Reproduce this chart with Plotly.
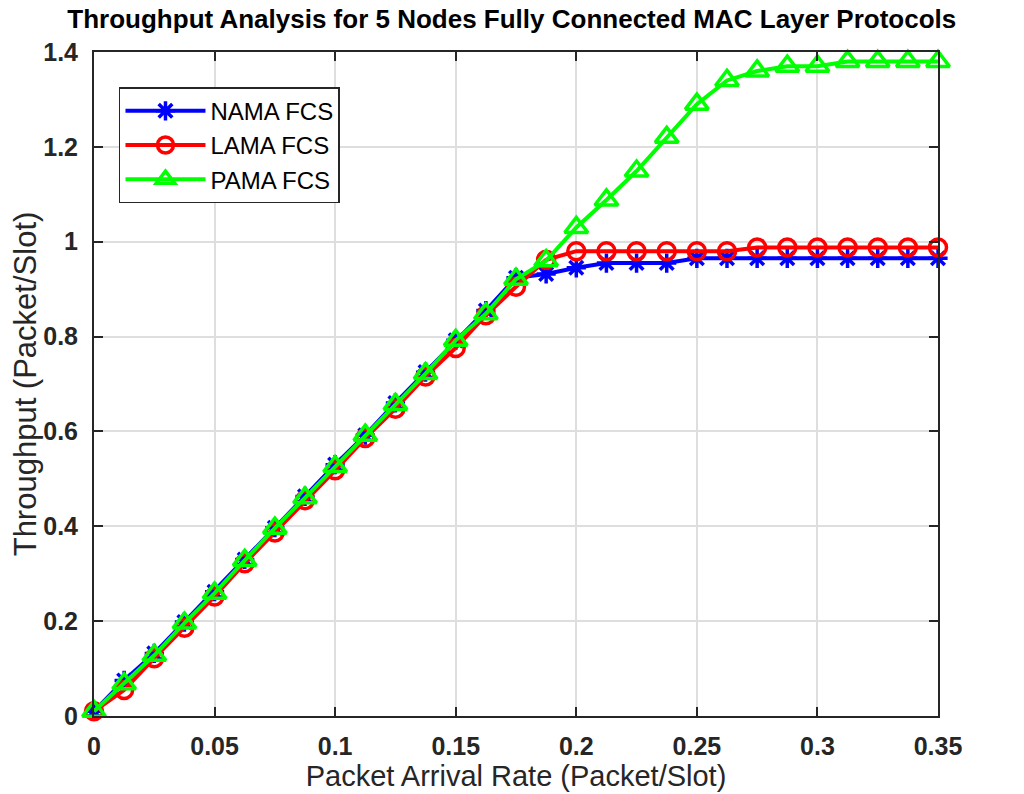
import plotly.graph_objects as go

arrival_rate = [0, 0.0125, 0.025, 0.0375, 0.05, 0.0625, 0.075, 0.0875, 0.1, 0.1125,
                0.125, 0.1375, 0.15, 0.1625, 0.175, 0.1875, 0.2, 0.2125, 0.225, 0.2375,
                0.25, 0.2625, 0.275, 0.2875, 0.3, 0.3125, 0.325, 0.3375, 0.35]

nama_fcs = [0.01, 0.075, 0.132, 0.198, 0.262, 0.33, 0.397, 0.463, 0.53, 0.592,
            0.66, 0.725, 0.792, 0.855, 0.924, 0.932, 0.945, 0.955, 0.955, 0.955,
            0.965, 0.965, 0.965, 0.965, 0.965, 0.965, 0.965, 0.965, 0.965]

lama_fcs = [0.01, 0.055, 0.122, 0.186, 0.252, 0.322, 0.387, 0.455, 0.518, 0.586,
            0.648, 0.716, 0.776, 0.845, 0.905, 0.962, 0.98, 0.98, 0.98, 0.98,
            0.98, 0.98, 0.988, 0.988, 0.988, 0.988, 0.988, 0.988, 0.988]

pama_fcs = [0.01, 0.068, 0.128, 0.196, 0.259, 0.328, 0.396, 0.46, 0.526, 0.592,
            0.657, 0.722, 0.792, 0.848, 0.921, 0.96, 1.03, 1.088, 1.149, 1.22,
            1.29, 1.34, 1.36, 1.37, 1.37, 1.38, 1.38, 1.38, 1.38]

x_ticks = [0, 0.05, 0.1, 0.15, 0.2, 0.25, 0.3, 0.35]
x_tick_text = ["0", "0.05", "0.1", "0.15", "0.2", "0.25", "0.3", "0.35"]
y_ticks = [0, 0.2, 0.4, 0.6, 0.8, 1.0, 1.2, 1.4]
y_tick_text = ["0", "0.2", "0.4", "0.6", "0.8", "1", "1.2", "1.4"]

series = [
    ("NAMA FCS", nama_fcs, "#0000FF", "asterisk-open", 16),
    ("LAMA FCS", lama_fcs, "#FF0000", "circle-open", 17),
    ("PAMA FCS", pama_fcs, "#00FF00", "triangle-up-open", 20),
]

fig = go.Figure()
for name, vals, color, sym, size in series:
    fig.add_trace(go.Scatter(
        x=arrival_rate, y=vals, mode="lines+markers", name=name,
        line=dict(color=color, width=4),
        marker=dict(symbol=sym, size=size, color=color, line=dict(color=color, width=3.5)),
        cliponaxis=False,
    ))

axis_common = dict(
    showline=True, linewidth=2, linecolor="#262626", mirror="ticks",
    ticks="inside", ticklen=9, tickwidth=2, tickcolor="#262626",
    showgrid=True, gridcolor="#DEDEDE", gridwidth=2, zeroline=False,
    automargin=False,
    tickfont=dict(family="Arial", size=25, color="#262626", weight="bold"),
)

fig.update_layout(
    width=1024, height=794,
    margin=dict(l=86, r=94, t=44, b=86),
    paper_bgcolor="white", plot_bgcolor="white",
    title=dict(text="<b>Throughput Analysis for 5 Nodes Fully Connected MAC Layer Protocols</b>",
               x=0.492, xanchor="center", y=0.9865, yanchor="middle",
               font=dict(family="Arial", size=26, color="black")),
    xaxis=dict(range=[0, 0.35], tickvals=x_ticks, ticktext=x_tick_text,
               ticklabelstandoff=7,
               title=dict(text="Packet Arrival Rate (Packet/Slot)", standoff=6,
                          font=dict(family="Arial", size=29, color="#262626")),
               **axis_common),
    yaxis=dict(range=[0, 1.4], tickvals=y_ticks, ticktext=y_tick_text,
               ticklabelstandoff=9,
               title=dict(text="Throughput (Packet/Slot)", standoff=10,
                          font=dict(family="Arial", size=31, color="#262626")),
               **axis_common),
    legend=dict(x=0.0296, y=0.947, xanchor="left", yanchor="top",
                bgcolor="white", bordercolor="#262626", borderwidth=1.5,
                font=dict(family="Arial", size=24, color="black"),
                itemwidth=80, tracegroupgap=0),
    showlegend=True,
)

fig.write_html("out.html")
